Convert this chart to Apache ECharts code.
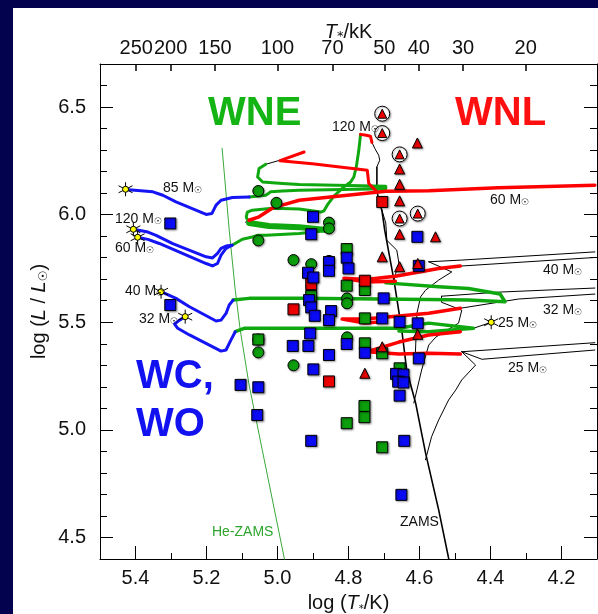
<!DOCTYPE html>
<html><head><meta charset="utf-8">
<script src="https://cdn.jsdelivr.net/npm/echarts@6/dist/echarts.min.js"></script>
<style>
html,body{margin:0;padding:0;background:#02024e;width:598px;height:614px;overflow:hidden}
#c{position:absolute;left:13px;top:8px;width:585px;height:606px;background:#fff}
</style></head><body><div id="c"></div>
<script>
// ---- tick labels ----
const xTicksMajor = [5.4, 5.2, 5.0, 4.8, 4.6, 4.4, 4.2];
const xTicksMinor = [5.3, 5.1, 4.9, 4.7, 4.5, 4.3];
const topTicksKK = [250, 200, 150, 100, 70, 50, 40, 30, 20];
const yTicksMajor = [4.5, 5.0, 5.5, 6.0, 6.5];
const yTicksMinor = [4.4, 4.6, 4.7, 4.8, 4.9, 5.1, 5.2, 5.3, 5.4, 5.6, 5.7, 5.8, 5.9, 6.1, 6.2, 6.3, 6.4, 6.6];

// ---- evolutionary tracks [log T, log L] ----
const blue85 = [[5.428,6.117],[5.351,6.106],[5.323,6.09],[5.286,6.059],[5.201,6.001],[5.185,6.005],[5.173,6.044],[5.159,6.067],[5.127,6.08],[5.08,6.082]];
const blue120 = [[5.406,5.932],[5.365,5.919],[5.342,5.904],[5.295,5.865],[5.201,5.804],[5.183,5.799],[5.169,5.82],[5.159,5.843],[5.145,5.854],[5.128,5.858]];
const blue60 = [[5.394,5.895],[5.365,5.885],[5.333,5.866],[5.201,5.773],[5.183,5.762],[5.169,5.773],[5.159,5.812],[5.145,5.843],[5.128,5.858]];
const blue40 = [[5.328,5.642],[5.286,5.611],[5.248,5.572],[5.173,5.506],[5.159,5.51],[5.145,5.541],[5.136,5.58],[5.125,5.603]];
const blue32 = [[5.26,5.526],[5.276,5.51],[5.29,5.492],[5.281,5.472],[5.248,5.441],[5.159,5.366],[5.145,5.371],[5.131,5.418],[5.119,5.456]];
const green85 = [[5.08,6.082],[5.033,6.09],[5.019,6.106],[4.986,6.11],[4.939,6.113],[4.695,6.12],[4.695,6.132],[4.939,6.14],[4.986,6.145],[5.042,6.152],[5.056,6.175],[5.052,6.214],[5.033,6.234]];
const black85 = [[5.033,6.234],[4.993,6.253]];
const red85 = [[4.925,6.291],[4.993,6.251],[4.902,6.237],[4.747,6.206],[4.743,6.145],[4.724,6.113]];
const black120 = [[4.72,6.222],[4.712,6.253],[4.715,6.276],[4.726,6.308],[4.734,6.336]];
const red120 = [[4.734,6.336],[4.735,6.345],[4.738,6.364],[4.75,6.369],[4.766,6.373]];
const green120 = [[4.766,6.373],[4.771,6.299],[4.778,6.222],[4.785,6.175],[4.794,6.152],[4.813,6.129],[4.841,6.086],[4.86,6.044],[4.869,6.018],[4.878,6.012],[4.939,6.026],[5.015,6.03],[5.071,6.021],[5.085,6.012],[5.088,5.989],[5.08,5.961],[5.024,5.947],[4.939,5.942],[4.855,5.928],[4.855,5.923],[4.939,5.912],[5.032,5.904],[5.057,5.904],[5.071,5.896],[5.099,5.886],[5.128,5.858]];
const greenBand = [[5.08,5.961],[5.024,5.947],[4.939,5.942],[4.855,5.928]];
const red60 = [[4.106,6.137],[4.378,6.125],[4.574,6.111],[4.695,6.109],[4.939,6.067],[4.987,6.044],[5.015,6.03],[5.052,5.99],[5.08,5.974]];
const black60 = [[5.08,5.974],[5.09,5.965]];
const red40 = [[4.485,5.761],[4.546,5.75],[4.668,5.714],[4.752,5.699],[4.813,5.704],[4.752,5.687],[4.668,5.691]];
const green40 = [[4.695,5.683],[4.546,5.665],[4.462,5.657],[4.373,5.631],[4.359,5.595],[4.462,5.603],[4.574,5.606],[4.939,5.611],[5.08,5.611],[5.125,5.603]];
const red32 = [[4.485,5.565],[4.574,5.542],[4.658,5.529],[4.754,5.515],[4.818,5.515],[4.754,5.496],[4.715,5.501]];
const green32 = [[4.658,5.459],[4.574,5.456],[4.448,5.472],[4.574,5.496],[4.658,5.472],[4.939,5.472],[5.094,5.472],[5.119,5.456]];
const black25 = [[4.448,5.472],[4.398,5.5]];
const red25 = [[4.485,5.456],[4.574,5.441],[4.658,5.408],[4.747,5.363],[4.658,5.352],[4.574,5.356],[4.485,5.352]];
const msTop40 = [[4.574,5.781],[4.481,5.789],[4.106,5.827]];
const msBot40 = [[4.485,5.761],[4.106,5.801]];
const ms40 = [[4.612,5.34],[4.607,5.543],[4.597,5.618],[4.583,5.649],[4.546,5.696],[4.509,5.734],[4.574,5.781]];
const msTop32 = [[4.538,5.621],[4.378,5.64],[4.106,5.659]];
const msBot32 = [[4.485,5.565],[4.321,5.608],[4.106,5.631]];
const ms32 = [[4.616,5.125],[4.594,5.278],[4.574,5.394],[4.554,5.431],[4.49,5.496],[4.481,5.556],[4.538,5.593],[4.538,5.621]];
const msTop25 = [[4.481,5.363],[4.106,5.405]];
const msBot25 = [[4.481,5.363],[4.424,5.328],[4.106,5.371]];
const ms25 = [[4.583,4.861],[4.566,4.968],[4.546,5.046],[4.518,5.139],[4.498,5.185],[4.481,5.232],[4.442,5.301],[4.481,5.363]];
const ms60 = [[4.706,6.021],[4.695,5.961],[4.692,5.881],[4.664,5.835],[4.658,5.775],[4.667,5.728],[4.672,5.696]];
const zams = [[4.72,6.22],[4.72,6.113],[4.715,6.067],[4.706,6.021],[4.698,5.928],[4.672,5.696],[4.65,5.464],[4.636,5.278],[4.611,5.125],[4.583,4.893],[4.546,4.628],[4.515,4.38]];
const heZams = [[5.156,6.308],[5.136,5.928],[5.119,5.649],[5.105,5.464],[5.08,5.209],[5.043,4.907],[4.978,4.38]];

// ---- stars [log T, log L] ----
const wcStars = [[5.302,5.959],[5.302,5.58],[5.104,5.209],[5.054,5.198],[5.057,5.069],[4.957,5.39],[4.913,5.39],[4.9,5.99],[4.905,5.909],[4.606,5.897],[4.805,5.80],[4.855,5.78],[4.855,5.739],[4.8,5.75],[4.602,5.762],[4.914,5.73],[4.899,5.708],[4.911,5.603],[4.701,5.611],[4.905,5.569],[4.895,5.53],[4.849,5.552],[4.855,5.51],[4.705,5.518],[4.656,5.502],[4.605,5.495],[4.908,5.448],[4.805,5.399],[4.754,5.358],[4.602,5.332],[4.855,5.348],[4.899,5.281],[4.666,5.26],[4.645,5.257],[4.66,5.224],[4.645,5.22],[4.656,5.159],[4.905,4.949],[4.643,4.949],[4.651,4.698]];
const wneSquares = [[5.054,5.42],[4.805,5.84],[4.805,5.67],[4.754,5.65],[4.905,5.622],[4.754,5.518],[4.754,5.402],[4.705,5.356],[4.656,5.286],[4.755,5.111],[4.755,5.059],[4.805,5.031],[4.705,4.919]];
const wneCircles = [[5.054,6.11],[5.003,6.055],[5.054,5.88],[5.054,5.42],[5.054,5.36],[4.955,5.30],[4.855,5.963],[4.855,5.936],[4.955,5.789],[4.905,5.77],[4.855,5.785],[4.804,5.611],[4.804,5.588],[4.855,5.515],[4.804,5.43]];
const wnlSquares = [[4.705,6.059],[4.905,5.677],[4.754,5.693],[4.955,5.56],[4.855,5.225]];
const wnlTriangles = [[4.606,6.333],[4.656,6.212],[4.656,6.141],[4.656,6.064],[4.656,5.909],[4.555,5.897],[4.705,5.804],[4.656,5.758],[4.605,5.773],[4.605,5.444],[4.705,5.386],[4.754,5.263]];
const wnlCircled = [[4.705,6.469],[4.705,6.379],[4.656,6.28],[4.656,5.982],[4.605,6.005]];
const wrEntry = [[5.428,6.118],[5.406,5.932],[5.394,5.895],[5.328,5.642],[5.26,5.526],[4.398,5.5]];

const FONT = 'Liberation Sans, Arial, sans-serif';
const BLUE = '#1414f5', GREEN = '#10a810', RED = '#ff0000';

function line(data, color, width, z) {
  return {type:'line', data:data, symbol:'none', showSymbol:false, clip:true, silent:true,
    lineStyle:{color:color, width:width, cap:'round', join:'round'}, z:z||2, animation:false};
}
const shadow = {shadowColor:'rgba(0,0,0,0.35)', shadowBlur:2, shadowOffsetX:1, shadowOffsetY:1};
function scat(data, symbol, size, color, z, extra) {
  return {type:'scatter', data:data, symbol:symbol, symbolSize:size, z:z||5, silent:true, animation:false,
    itemStyle:Object.assign({color:color, borderColor:'#000', borderWidth:1, opacity:1}, shadow, extra||{})};
}

const baseX = {type:'value', min:4.1, max:5.5, inverse:true, splitLine:{show:false}};
const baseY = {type:'value', min:4.4, max:6.7, splitLine:{show:false}};
const lbl = {fontFamily:FONT, fontSize:20, color:'#111'};
function nameStyle(subSize) {
  return {fontFamily:FONT, fontSize:20, color:'#111', lineHeight:22,
    rich:{i:{fontFamily:FONT, fontSize:20, fontStyle:'italic', color:'#111', lineHeight:22},
          s:{fontFamily:'DejaVu Sans', fontSize:subSize, color:'#111', lineHeight:10, verticalAlign:'bottom'}}};
}

const option = {
  backgroundColor:'#fff',
  animation:false,
  grid:{left:87, top:56, right:1, bottom:55, containLabel:false, outerBoundsMode:'none'},
  xAxis:[
    Object.assign({}, baseX, {position:'bottom',
      axisLine:{show:true, onZero:false, lineStyle:{color:'#000', width:1}},
      axisTick:{show:true, inside:true, length:13, customValues:xTicksMajor, lineStyle:{color:'#000'}},
      axisLabel:Object.assign({show:true, customValues:xTicksMajor, margin:9, formatter:v=>v.toFixed(1)}, lbl),
      name:'log ({i|T}{s|*}/K)', nameLocation:'middle', nameGap:30, nameTextStyle:nameStyle(10)}),
    Object.assign({}, baseX, {position:'bottom',
      axisLine:{show:false},
      axisTick:{show:true, inside:true, length:6, customValues:xTicksMinor, lineStyle:{color:'#000'}},
      axisLabel:{show:false}}),
    Object.assign({}, baseX, {position:'top',
      axisLine:{show:true, onZero:false, lineStyle:{color:'#000', width:1}},
      axisTick:{show:true, inside:true, length:7, customValues:topTicksKK.map(t=>Math.log10(t*1000)), lineStyle:{color:'#000', width:1.5}},
      axisLabel:Object.assign({show:true, customValues:topTicksKK.map(t=>Math.log10(t*1000)), margin:6, hideOverlap:false,
        formatter:v=>String(Math.round(Math.pow(10, v)/1000))}, lbl),
      name:'{i|T}{s|*}/kK', nameLocation:'middle', nameGap:21, nameMoveOverlap:false, nameTextStyle:nameStyle(13)})
  ],
  yAxis:[
    Object.assign({}, baseY, {position:'left',
      axisLine:{show:true, onZero:false, lineStyle:{color:'#000', width:1}},
      axisTick:{show:true, inside:true, length:13, customValues:yTicksMajor, lineStyle:{color:'#000'}},
      axisLabel:Object.assign({show:true, customValues:yTicksMajor, margin:14, formatter:v=>v.toFixed(1)}, lbl),
      name:'log ({i|L} / {i|L}{s|☉})', nameLocation:'middle', nameGap:50, nameRotate:90, nameMoveOverlap:false, nameTextStyle:nameStyle(12)}),
    Object.assign({}, baseY, {position:'left', axisLine:{show:false},
      axisTick:{show:true, inside:true, length:7, customValues:yTicksMinor, lineStyle:{color:'#000'}},
      axisLabel:{show:false}}),
    Object.assign({}, baseY, {position:'right',
      axisLine:{show:true, onZero:false, lineStyle:{color:'#000', width:1}},
      axisTick:{show:true, inside:true, length:13, customValues:yTicksMajor, lineStyle:{color:'#000'}},
      axisLabel:{show:false}}),
    Object.assign({}, baseY, {position:'right', axisLine:{show:false},
      axisTick:{show:true, inside:true, length:7, customValues:yTicksMinor, lineStyle:{color:'#000'}},
      axisLabel:{show:false}})
  ],
  series:[
    line(heZams, '#3aa83a', 1, 1),
    line(zams, '#000', 1.6, 1),
    line(ms60, '#000', 1, 1), line(ms40, '#000', 1, 1), line(ms32, '#000', 1, 1), line(ms25, '#000', 1, 1),
    line(msTop40, '#000', 1, 1), line(msBot40, '#000', 1, 1),
    line(msTop32, '#000', 1, 1), line(msBot32, '#000', 1, 1),
    line(msTop25, '#000', 1, 1), line(msBot25, '#000', 1, 1),
    line(black85, '#000', 1, 1), line(black120, '#000', 1, 1), line(black60, '#000', 1, 1), line(black25, '#000', 1, 1),
    line(green85, GREEN, 3), line(green120, GREEN, 3), line(greenBand, GREEN, 6),
    line(green40, GREEN, 3.5), line(green32, GREEN, 3.5),
    line(red85, RED, 3), line(red120, RED, 3), line(red60, RED, 3.5),
    line(red40, RED, 3.5), line(red32, RED, 3.5), line(red25, RED, 3.5),
    line(blue85, BLUE, 3), line(blue120, BLUE, 3), line(blue60, BLUE, 3), line(blue40, BLUE, 3), line(blue32, BLUE, 3),
    scat(wneCircles, 'circle', 11, '#0c9e0c', 5),
    scat(wneSquares, 'rect', 11, '#0c9e0c', 6),
    scat(wnlSquares, 'rect', 11, '#ee0000', 6),
    scat(wcStars, 'rect', 11, '#0a0af5', 7),
    scat(wnlTriangles, 'triangle', 10, '#ee0000', 7),
    scat(wnlCircled, 'circle', 15, '#ffffff', 7),
    scat(wnlCircled, 'triangle', 9, '#ee0000', 8, {shadowBlur:0, shadowOffsetX:0, shadowOffsetY:0}),
    scat(wrEntry, 'path://M0,-10L0,10M-9,-5L9,5M-9,5L9,-5', 14, 'none', 8, {shadowBlur:0, shadowOffsetX:0, shadowOffsetY:0}),
    scat(wrEntry, 'circle', 6, '#ffff00', 9, {shadowBlur:0, shadowOffsetX:0, shadowOffsetY:0})
  ],
  graphic:[]
};

function massLabel(x, y, txt) {
  return {type:'text', x:x, y:y, z:50, silent:true,
    style:{text:'{a|' + txt + ' M}{b|☉}', verticalAlign:'middle', align:'left',
      rich:{a:{fontFamily:FONT, fontSize:14, fill:'#111', lineHeight:15, verticalAlign:'bottom'},
            b:{fontFamily:'DejaVu Sans', fontSize:9, fill:'#111', lineHeight:8, verticalAlign:'bottom'}}}};
}
function big(x, y, txt, color) {
  return {type:'text', x:x, y:y, z:50, silent:true,
    style:{text:txt, fill:color, font:'bold 40px ' + FONT, verticalAlign:'middle', align:'left'}};
}
option.graphic = [
  big(195, 105.5, 'WNE', '#14b414'),
  big(442, 105.5, 'WNL', '#ff1010'),
  big(123, 369, 'WC,', '#1212f0'),
  big(123, 417, 'WO', '#1212f0'),
  massLabel(319, 119, '120'),
  massLabel(150, 180, '85'),
  massLabel(102, 211, '120'),
  massLabel(102, 240, '60'),
  massLabel(112, 283, '40'),
  massLabel(126, 311, '32'),
  massLabel(477, 192, '60'),
  massLabel(530, 262, '40'),
  massLabel(530, 302, '32'),
  massLabel(485, 315, '25'),
  massLabel(495, 360, '25'),
  {type:'text', x:199, y:524, z:50, silent:true, style:{text:'He-ZAMS', fill:'#2ea52e', font:'14px ' + FONT, verticalAlign:'middle', align:'left'}},
  {type:'text', x:387, y:514, z:50, silent:true, style:{text:'ZAMS', fill:'#111', font:'14px ' + FONT, verticalAlign:'middle', align:'left'}}
];

const chart = echarts.init(document.getElementById('c'), null, {renderer:'canvas'});
chart.setOption(option);
</script></body></html>
